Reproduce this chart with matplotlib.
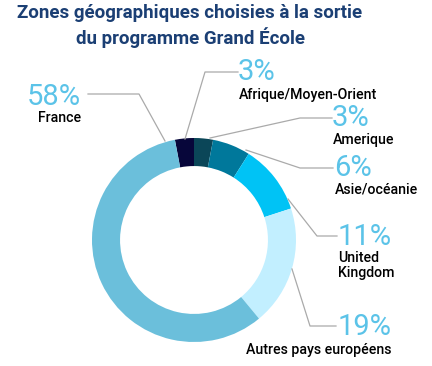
import matplotlib
matplotlib.use('Agg')
import matplotlib.pyplot as plt
from matplotlib.lines import Line2D

# data (clockwise from the top)
zones = ['Afrique/Moyen-Orient', 'Amerique', 'Asie/océanie',
         'United\nKingdom', 'Autres pays européens', 'France']
shares = [3, 3, 6, 11, 19, 58]
colors = ['#07063a', '#0b4658', '#00789b', '#00c3f5', '#c2efff', '#6bbfdb']

W, H = 432, 366
fig = plt.figure(figsize=(W / 100, H / 100), dpi=100)


def px(x, y):
    return x / W, 1 - y / H


# donut
cx, cy, r = 194, 240, 102
ax = fig.add_axes([(cx - r) / W, (H - cy - r) / H, 2 * r / W, 2 * r / H])
ax.pie(shares, colors=colors, startangle=90 + 3.6 * shares[0], counterclock=False,
       radius=1, wedgeprops=dict(width=0.275, linewidth=0))
ax.set_xlim(-1, 1)
ax.set_ylim(-1, 1)
ax.set_aspect('equal')
ax.axis('off')

title_col = '#1b3f74'
fig.text(*px(190, 13), 'Zones géographiques choisies à la sortie', ha='center', va='center',
         fontsize=13.5, fontweight='bold', color=title_col, family='Roboto')
fig.text(*px(191, 38), 'du programme Grand École', ha='center', va='center',
         fontsize=13.5, fontweight='bold', color=title_col, family='Roboto')

pct_col = '#5bc3e8'
line_col = '#aaaaaa'

# label layout: (leader line points, pct pos, pct align, name pos, name align)
layout = {
    'France': ([(165, 141), (139, 94), (88, 94)], (81, 97), 'right', (81, 118), 'right'),
    'Afrique/Moyen-Orient': ([(185, 139), (205, 72), (238, 72)], (238, 72), 'left', (239, 95), 'left'),
    'Amerique': ([(210, 138), (300, 118), (332, 118)], (332, 118), 'left', (333, 140), 'left'),
    'Asie/océanie': ([(246, 150), (300, 168), (333, 168)], (334, 168), 'left', (335, 190), 'left'),
    'United\nKingdom': ([(288, 199), (317, 236), (337, 236)], (338, 237), 'left', (338, 251), 'left'),
    'Autres pays européens': ([(292, 269), (310, 326), (336, 326)], (338, 327), 'left', (392, 350), 'right'),
}

for zone, share in zip(zones, shares):
    pts, ppos, pha, npos, nha = layout[zone]
    xs = [px(*p)[0] for p in pts]
    ys = [px(*p)[1] for p in pts]
    fig.add_artist(Line2D(xs, ys, color=line_col, lw=0.9, transform=fig.transFigure))
    fig.text(*px(*ppos), f'{share}%', ha=pha, va='center', fontsize=21,
             fontweight='normal', color=pct_col, family='Roboto')
    fig.text(*px(*npos), zone, ha=nha, va='top' if '\n' in zone else 'center',
             fontsize=10.2, fontweight='medium', color='black', family='Roboto',
             linespacing=1.1)

fig.savefig('out.png', dpi=100)
